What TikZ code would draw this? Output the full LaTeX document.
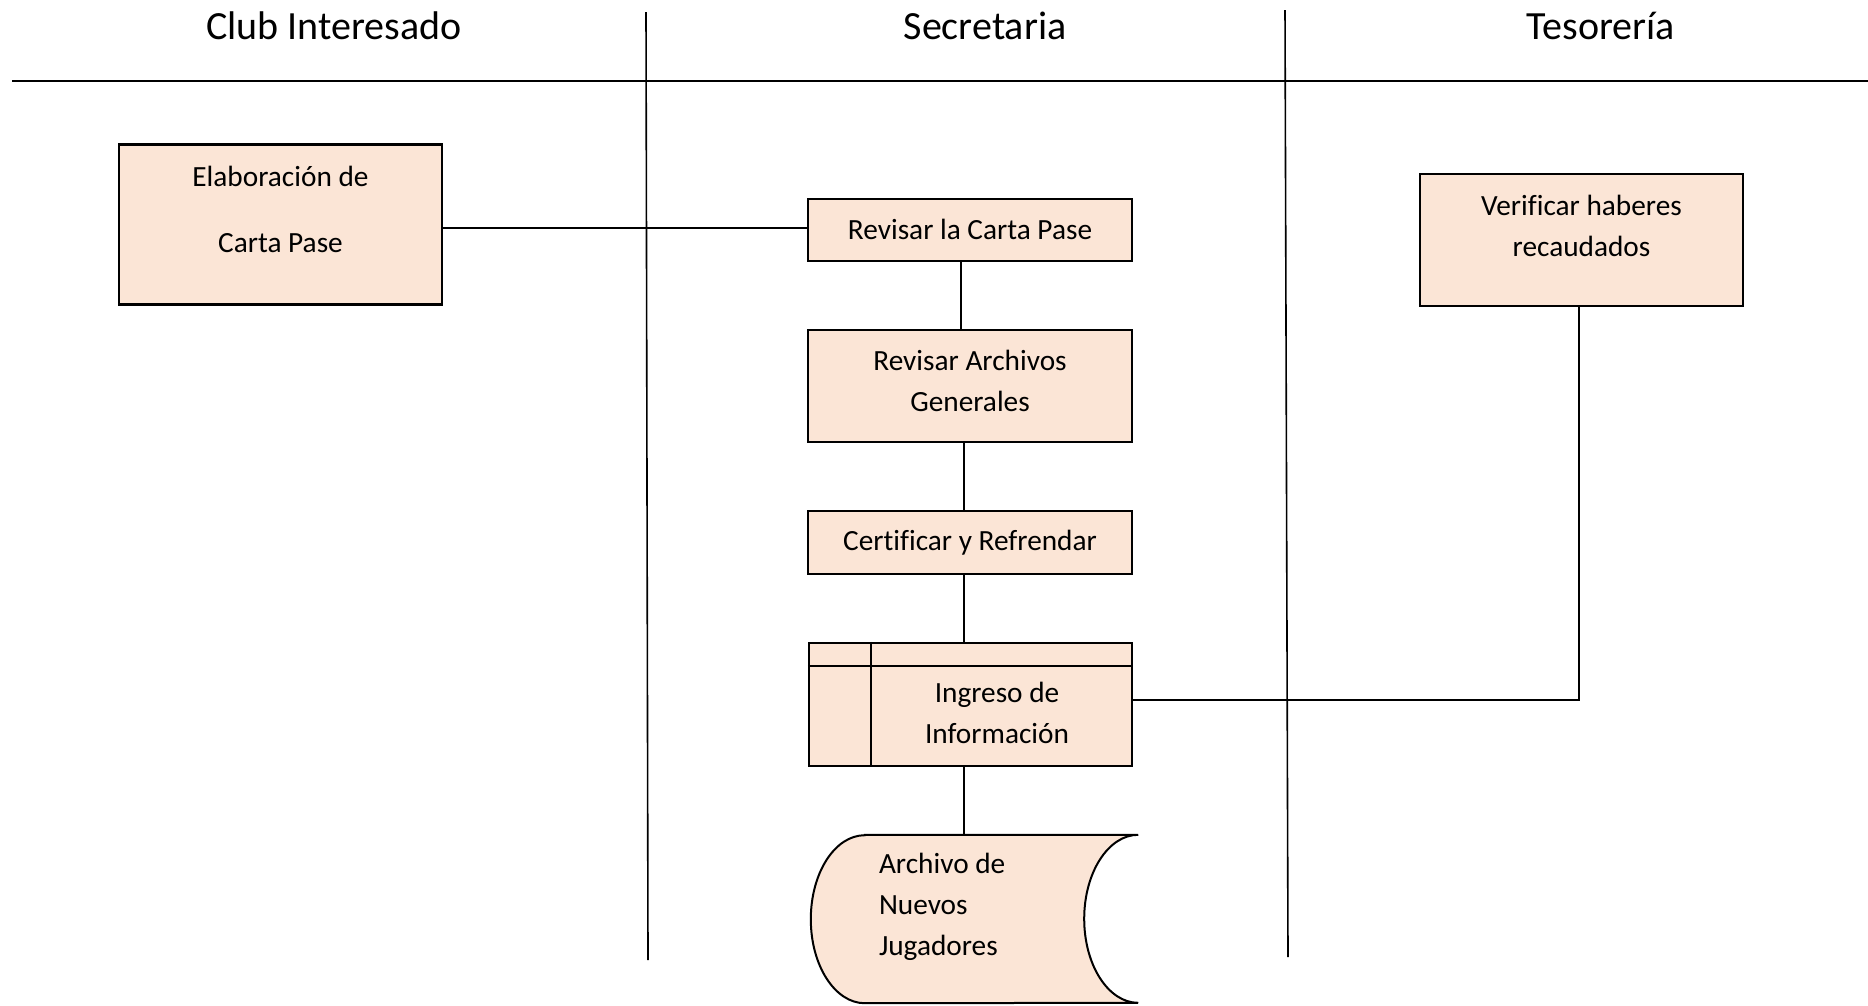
\documentclass[tikz,border=0pt]{standalone}
\usepackage{fontspec}
\setmainfont{Carlito}[Ligatures=CommonOff]
\usetikzlibrary{backgrounds}
\definecolor{peach}{HTML}{FBE5D6}
\begin{document}
\begin{tikzpicture}[x=1pt,y=-1pt,
  lane/.style={line width=1.6pt},
  proc/.style={draw, line width=2.3pt, fill=peach, inner sep=0pt, align=center,
    font=\fontsize{29.3}{41}\selectfont},
  conn/.style={line width=2pt},
  title/.style={font=\fontsize{40}{48}\selectfont, anchor=base, inner sep=0pt},
  txt/.style={inner sep=0pt, align=center, font=\fontsize{29.3}{41}\selectfont}]
\useasboundingbox (0,0) rectangle (1868,1005);

% swimlane headers
\node[title] (t1) at (334,39) {Club Interesado};
\node[title] (t2) at (985,39) {Secretaria};
\node[title] (t3) at (1601,39) {Tesorería};
\draw[line width=2.6pt] (12,81) -- (1868,81);
\draw[lane] (646,12) -- (648,960);
\draw[lane] (1285,10) -- (1288,957);

% process boxes
\node[proc, minimum width=323pt, minimum height=160pt,
  label={[txt, yshift=15.5pt]center:{Elaboración de\\[25pt]Carta Pase}}] (elab) at (280.5,224.5) {};
\node[proc, minimum width=324pt, minimum height=62pt,
  label={[txt, yshift=1pt]center:{Revisar la Carta Pase}}] (rev) at (970,230) {};
\node[proc, minimum width=324pt, minimum height=112pt,
  label={[txt, yshift=5.5pt]center:{Revisar Archivos\\Generales}}] (arch1) at (970,386) {};
\node[proc, minimum width=324pt, minimum height=63pt] (cert) at (970,542.5) {Certificar y Refrendar};
\node[proc, minimum width=323pt, minimum height=123pt,
  label={[txt, xshift=26.5pt, yshift=-8.5pt]center:{Ingreso de\\Información}}] (ing) at (970.5,704.5) {};
\draw[line width=2.3pt] ([yshift=-24pt]ing.north west) -- ([yshift=-24pt]ing.north east);
\draw[line width=2.3pt] ([xshift=63pt]ing.north west) -- ([xshift=63pt]ing.south west);
\node[proc, minimum width=323pt, minimum height=132pt,
  label={[txt, yshift=14pt]center:{Verificar haberes\\recaudados}}] (verif) at (1581.5,240) {};

% stored data
\node[minimum width=327pt, minimum height=168pt, inner sep=0pt,
  label={[txt, align=left, anchor=west, xshift=68pt, yshift=12.5pt]west:{Archivo de\\Nuevos\\Jugadores}}] (store) at (974.5,919) {};
\begin{scope}[on background layer]
\draw[line width=2pt, fill=peach] ([xshift=54pt]store.north west) -- (store.north east)
  arc[start angle=270, end angle=90, x radius=54, y radius=84]
  -- ([xshift=54pt]store.south west)
  arc[start angle=90, end angle=270, x radius=54, y radius=84] -- cycle;
\end{scope}

% connectors
\draw[conn] ([yshift=-3.5pt]elab.east) -- ([yshift=2pt]rev.west);
\draw[conn] ([xshift=-9pt]rev.south) -- ([xshift=-9pt]arch1.north);
\draw[conn] ([xshift=-6pt]arch1.south) -- ([xshift=-6pt]cert.north);
\draw[conn] ([xshift=-6pt]cert.south) -- ([xshift=-6.5pt]ing.north);
\draw[conn] ([xshift=-6.5pt]ing.south) -- ([xshift=-10.5pt]store.north);
\draw[conn] ([yshift=4.5pt]ing.east) -| ([xshift=-2.5pt]verif.south);
\end{tikzpicture}
\end{document}
